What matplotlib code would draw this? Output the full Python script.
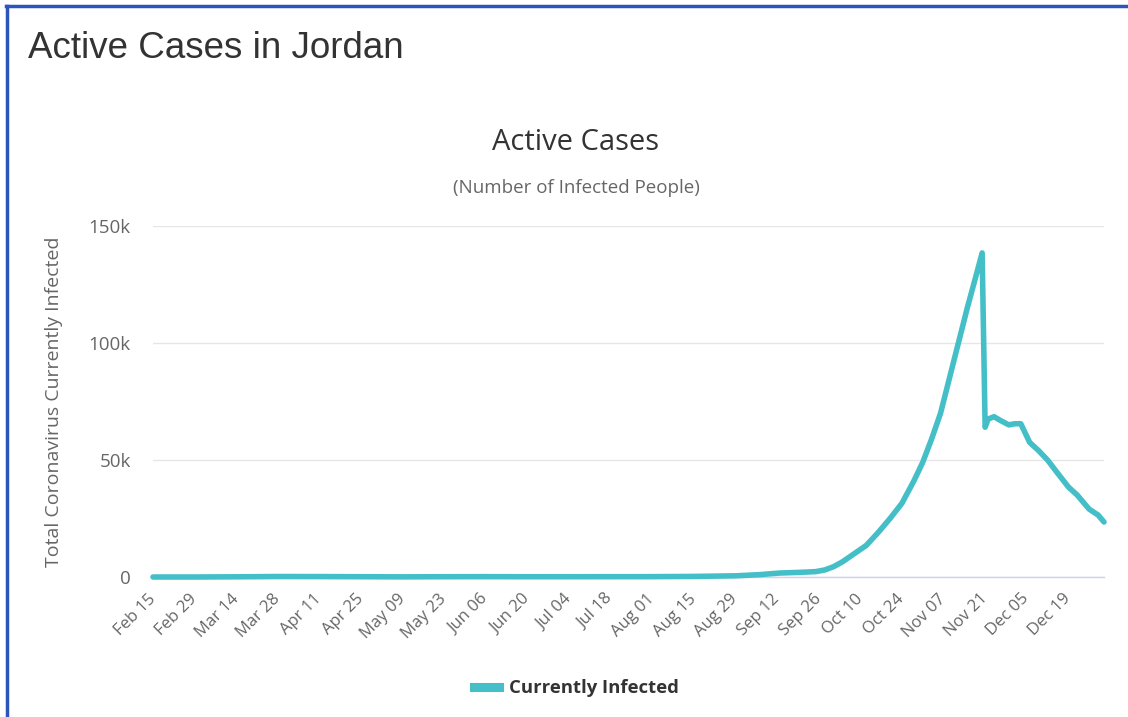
import matplotlib
matplotlib.use("Agg")
import matplotlib.pyplot as plt
from matplotlib.lines import Line2D
from matplotlib.ticker import FuncFormatter
import pandas as pd

# ---- data ----
dates = ["2020-02-15", "2020-03-01", "2020-03-15", "2020-03-28", "2020-04-11",
         "2020-04-25", "2020-05-09", "2020-05-23", "2020-06-06", "2020-06-20",
         "2020-07-04", "2020-07-18", "2020-08-01", "2020-08-15", "2020-08-29",
         "2020-09-06", "2020-09-13", "2020-09-20", "2020-09-25", "2020-09-28",
         "2020-10-01", "2020-10-04", "2020-10-08", "2020-10-12", "2020-10-16",
         "2020-10-20", "2020-10-24", "2020-10-28", "2020-10-31", "2020-11-03",
         "2020-11-06", "2020-11-09", "2020-11-12", "2020-11-15", "2020-11-18",
         "2020-11-20", "2020-11-21", "2020-11-22", "2020-11-24", "2020-11-26",
         "2020-11-29", "2020-12-01", "2020-12-03", "2020-12-06", "2020-12-09",
         "2020-12-12", "2020-12-15", "2020-12-19", "2020-12-22", "2020-12-26",
         "2020-12-29", "2020-12-31"]
active = [0, 0, 90, 200, 180, 120, 60, 120, 150, 110,
          120, 130, 150, 250, 500,
          1000, 1700, 2000, 2300, 3000,
          4400, 6500, 10000, 13500, 19000,
          25000, 31500, 41000, 49000, 59000,
          70000, 85000, 100000, 115000, 129000,
          138500, 64000, 67500, 68500, 67000,
          65000, 65500, 65500, 57500, 54000,
          50000, 45000, 38500, 35000, 29000,
          26500, 23500]

x_tick_labels = ["Feb 15", "Feb 29", "Mar 14", "Mar 28", "Apr 11", "Apr 25",
                 "May 09", "May 23", "Jun 06", "Jun 20", "Jul 04", "Jul 18",
                 "Aug 01", "Aug 15", "Aug 29", "Sep 12", "Sep 26", "Oct 10",
                 "Oct 24", "Nov 07", "Nov 21", "Dec 05", "Dec 19"]
y_ticks = [0, 50000, 100000, 150000]

series_name = "Currently Infected"
line_color = "#45bfc7"

# ---- figure ----
W, H = 1128, 717
fig = plt.figure(figsize=(W / 100, H / 100), dpi=100)
fig.patch.set_facecolor("white")

x = pd.to_datetime(dates)
left, right, top, bottom = 153, 1104, 226, 577
ax = fig.add_axes([left / W, 1 - bottom / H, (right - left) / W, (bottom - top) / H])

ln, = ax.plot(x, active, color=line_color, lw=4.0, solid_joinstyle="round",
              solid_capstyle="round", label=series_name, zorder=3, clip_on=False)

ax.set_xlim(pd.Timestamp("2020-02-15"), pd.Timestamp("2020-12-31"))
ax.set_ylim(0, 150000)

tick_dates = [pd.Timestamp(f"2020 {s}") for s in x_tick_labels]
ax.set_xticks(tick_dates)
ax.set_xticklabels(x_tick_labels, rotation=45, ha="right", va="center",
                   rotation_mode="anchor",
                   fontsize=12, color="#666666", family="Open Sans")
ax.tick_params(axis="x", length=0, pad=14)

ax.set_yticks(y_ticks)
ax.yaxis.set_major_formatter(FuncFormatter(lambda v, p: "0" if v == 0 else f"{int(v/1000)}k"))
ax.tick_params(axis="y", length=0, pad=16, labelsize=13.5, labelcolor="#666666")
for lab in ax.get_yticklabels():
    lab.set_family("Open Sans")

ax.grid(axis="y", color="#e6e6e6", lw=1)
ax.set_axisbelow(True)
for s in ["top", "right", "left"]:
    ax.spines[s].set_visible(False)
ax.spines["bottom"].set_color("#ccd6eb")
ax.spines["bottom"].set_linewidth(1)

ax.set_ylabel("Total Coronavirus Currently Infected", fontsize=14, color="#666666",
              family="Open Sans")
ax.yaxis.set_label_coords((63 - left) / (right - left), 0.5)

# titles
fig.text(28 / W, 1 - 48 / H, "Active Cases in Jordan", fontsize=26.5, color="#333333",
         family="Liberation Sans", ha="left", va="center")
fig.text(576 / W, 1 - 143 / H, "Active Cases", fontsize=21, color="#333333",
         family="Open Sans", ha="center", va="center")
fig.text(576 / W, 1 - 188 / H, "(Number of Infected People)", fontsize=13.5, color="#666666",
         family="Open Sans", ha="center", va="center")

# legend
leg = fig.legend(handles=[Line2D([0], [0], color=line_color, lw=6.5)], labels=[series_name],
                 loc="center", bbox_to_anchor=(576 / W, 1 - 688 / H), frameon=False,
                 handlelength=1.4, handletextpad=0.5,
                 prop={"family": "Open Sans", "weight": "bold", "size": 13.3})
for t in leg.get_texts():
    t.set_color("#333333")

# blue frame (top and left edges visible)
fig.add_artist(Line2D([6 / W, 1], [1 - 6 / H, 1 - 6 / H], color="#2b55b8", lw=2.5,
                      transform=fig.transFigure))
fig.add_artist(Line2D([7 / W, 7 / W], [0, 1 - 6 / H], color="#2b55b8", lw=2.5,
                      transform=fig.transFigure))

fig.savefig("out.png", dpi=100, facecolor="white")
